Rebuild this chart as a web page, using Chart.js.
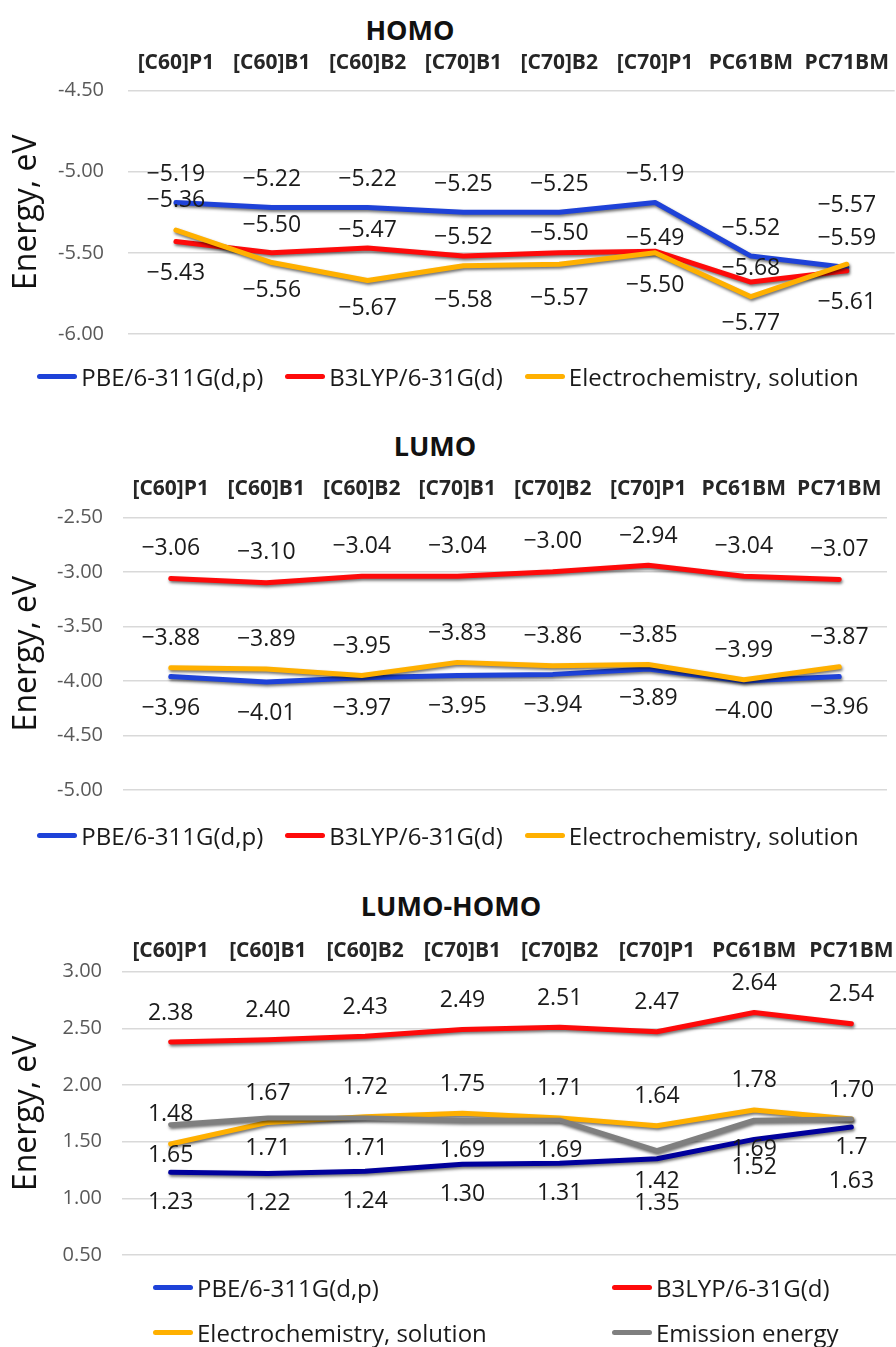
<!DOCTYPE html>
<html>
<head>
<meta charset="utf-8">
<script src="https://cdn.jsdelivr.net/npm/chart.js@4"></script>
<style>
    html, body {
        margin: 0;
        padding: 0;
        background: #fff;
        overflow: hidden;
    }
    body {
        position: relative;
        width: 896px;
        height: 1347px;
        font-family: 'Open Sans', sans-serif;
    }
    .block {
        position: absolute;
        left: 0;
    }
    .chart-title {
        position: absolute;
        transform: translate(-50%, -50%);
        font-weight: bold;
        font-size: 27px;
        color: #111;
        white-space: nowrap;
    }
    .legend {
        position: absolute;
        display: flex;
        align-items: center;
        font-size: 24px;
        color: #1a1a1a;
        white-space: nowrap;
    }
    .legend-row {
        left: 0;
        width: 896px;
        justify-content: center;
        gap: 22px;
        transform: translateY(-50%);
    }
    .legend-grid {
        display: grid;
        grid-template-columns: 459px auto;
        row-gap: 13px;
        left: 153px;
    }
    .legend-item {
        display: flex;
        align-items: center;
        height: 32px;
    }
    .swatch {
        width: 40px;
        height: 5px;
        border-radius: 3px;
        margin-right: 4px;
    }
</style>
</head>
<body>
    <div class="chart-title" style="left:410px; top:29px;">HOMO</div>
    <div class="block" style="top:0;"><canvas id="homoChart" width="896" height="370"></canvas></div>
    <div class="legend legend-row" id="homoLegend" style="top:376px;"></div>

    <div class="chart-title" style="left:435px; top:445px;">LUMO</div>
    <div class="block" style="top:400px;"><canvas id="lumoChart" width="896" height="422"></canvas></div>
    <div class="legend legend-row" id="lumoLegend" style="top:835px;"></div>

    <div class="chart-title" style="left:451px; top:905px;">LUMO-HOMO</div>
    <div class="block" style="top:870px;"><canvas id="gapChart" width="900" height="417"></canvas></div>
    <div class="legend legend-grid" id="gapLegend" style="top:1271px;"></div>

<script>
// Категории и подписи серий
const categories = ['[C60]P1', '[C60]B1', '[C60]B2', '[C70]B1', '[C70]B2', '[C70]P1', 'PC61BM', 'PC71BM'];
const seriesNames = ['PBE/6-311G(d,p)', 'B3LYP/6-31G(d)', 'Electrochemistry, solution', 'Emission energy'];
const axisTitle = 'Energy, eV';

// HOMO, eV
const homoPbe = [-5.19, -5.22, -5.22, -5.25, -5.25, -5.19, -5.52, -5.59];
const homoB3lyp = [-5.43, -5.50, -5.47, -5.52, -5.50, -5.49, -5.68, -5.61];
const homoElectro = [-5.36, -5.56, -5.67, -5.58, -5.57, -5.50, -5.77, -5.57];

// LUMO, eV
const lumoPbe = [-3.96, -4.01, -3.97, -3.95, -3.94, -3.89, -4.00, -3.96];
const lumoB3lyp = [-3.06, -3.10, -3.04, -3.04, -3.00, -2.94, -3.04, -3.07];
const lumoElectro = [-3.88, -3.89, -3.95, -3.83, -3.86, -3.85, -3.99, -3.87];

// LUMO-HOMO, eV
const gapPbe = [1.23, 1.22, 1.24, 1.30, 1.31, 1.35, 1.52, 1.63];
const gapB3lyp = [2.38, 2.40, 2.43, 2.49, 2.51, 2.47, 2.64, 2.54];
const gapElectro = [1.48, 1.67, 1.72, 1.75, 1.71, 1.64, 1.78, 1.70];
const gapEmission = [1.65, 1.71, 1.71, 1.69, 1.69, 1.42, 1.69, 1.7];

// Диапазоны осей Y
const homoRange = [-6.0, -4.5];
const lumoRange = [-5.0, -2.5];
const gapRange = [0.5, 3.0];
const yStep = 0.5;

// Сдвиг подписей значений в px (плюс - выше точки, минус - ниже)
const homoShift = {
    pbe: [28, 28, 28, 28, 28, 28, 28, 29],
    b3lyp: [-32, 27, 18, 19, 19, 13, 14, -32],
    electro: [30, -28, -28, -35, -34, -33, -27, 59]
};
const lumoShift = {
    pbe: [-32, -31, -31, -31, -31, -30, -31, -31],
    b3lyp: [30, 30, 30, 30, 30, 29, 30, 30],
    electro: [29, 29, 29, 29, 29, 29, 29, 29]
};
const gapShift = {
    pbe: [-30, -30, -30, -30, -30, -45, -28, -55],
    b3lyp: [29, 29, 29, 29, 29, 29, 29, 29],
    electro: [29, 29, 29, 29, 29, 29, 29, 29],
    emission: [-31, -31, -31, -30, -30, -31, -29, -28]
};

const FONT = "'Open Sans', sans-serif";
const COLORS = {
    blue: '#1e42d8',
    navy: '#00009c',
    red: '#fe0a0a',
    orange: '#ffb000',
    gray: '#7f7f7f'
};

const fixed2 = v => v.toFixed(2).replace('-', '\u2212');
const general = v => String(v).replace('-', '\u2212');

// Тень под линиями, как в Excel
const lineShadow = {
    id: 'lineShadow',
    beforeDatasetsDraw(chart) {
        const ctx = chart.ctx;
        ctx.save();
        ctx.shadowColor = 'rgba(0, 0, 0, 0.55)';
        ctx.shadowBlur = 3;
        ctx.shadowOffsetX = 1;
        ctx.shadowOffsetY = 2;
    },
    afterDatasetsDraw(chart) {
        chart.ctx.restore();
    }
};

// Подписи значений у точек
const valueLabels = {
    id: 'valueLabels',
    afterDraw(chart) {
        const ctx = chart.ctx;
        ctx.save();
        ctx.font = `23px ${FONT}`;
        ctx.fillStyle = '#1a1a1a';
        ctx.textAlign = 'center';
        ctx.textBaseline = 'middle';
        chart.data.datasets.forEach((ds, i) => {
            const meta = chart.getDatasetMeta(i);
            meta.data.forEach((pt, j) => {
                ctx.fillText(ds.fmt(ds.data[j]), pt.x, pt.y - ds.shift[j]);
            });
        });
        ctx.restore();
    }
};

class EnergyCharts {
    constructor() {
        this.charts = {};
        this.init();
    }

    init() {
        this.charts.homo = this.buildChart('homoChart', [
            this.lineSet(seriesNames[0], homoPbe, COLORS.blue, homoShift.pbe, fixed2, 3),
            this.lineSet(seriesNames[1], homoB3lyp, COLORS.red, homoShift.b3lyp, fixed2, 2),
            this.lineSet(seriesNames[2], homoElectro, COLORS.orange, homoShift.electro, fixed2, 1)
        ], {
            range: homoRange, yWidth: 128, xHeight: 50.5, xPad: 7, yPad: 24,
            padding: { top: 40, bottom: 12, left: 0, right: 0 }
        });

        this.charts.lumo = this.buildChart('lumoChart', [
            this.lineSet(seriesNames[0], lumoPbe, COLORS.blue, lumoShift.pbe, fixed2, 3),
            this.lineSet(seriesNames[1], lumoB3lyp, COLORS.red, lumoShift.b3lyp, fixed2, 2),
            this.lineSet(seriesNames[2], lumoElectro, COLORS.orange, lumoShift.electro, fixed2, 1)
        ], {
            range: lumoRange, yWidth: 123, xHeight: 50.3, xPad: 8, yPad: 20,
            padding: { top: 67, bottom: 12, left: 0, right: 9 }
        });

        const gapPbeSet = this.lineSet(seriesNames[0], gapPbe, COLORS.navy, gapShift.pbe, fixed2, 4);
        gapPbeSet.legendColor = COLORS.blue;
        this.charts.gap = this.buildChart('gapChart', [
            gapPbeSet,
            this.lineSet(seriesNames[1], gapB3lyp, COLORS.red, gapShift.b3lyp, fixed2, 3),
            this.lineSet(seriesNames[2], gapElectro, COLORS.orange, gapShift.electro, fixed2, 2),
            this.lineSet(seriesNames[3], gapEmission, COLORS.gray, gapShift.emission, general, 1)
        ], {
            range: gapRange, yWidth: 122, xHeight: 51.7, xPad: 0, yPad: 20,
            padding: { top: 50, bottom: 12, left: 0, right: 0 }
        });

        this.buildLegend(this.charts.homo, 'homoLegend');
        this.buildLegend(this.charts.lumo, 'lumoLegend');
        this.buildLegend(this.charts.gap, 'gapLegend');
    }

    lineSet(label, data, color, shift, fmt, order) {
        return {
            label: label,
            data: data,
            borderColor: color,
            backgroundColor: color,
            borderWidth: 5,
            borderCapStyle: 'round',
            borderJoinStyle: 'round',
            pointRadius: 0,
            tension: 0,
            fill: false,
            order: order,
            shift: shift,
            fmt: fmt
        };
    }

    buildChart(canvasId, datasets, cfg) {
        const ctx = document.getElementById(canvasId).getContext('2d');
        return new Chart(ctx, {
            type: 'line',
            data: {
                labels: categories,
                datasets: datasets
            },
            options: {
                responsive: false,
                animation: false,
                layout: { padding: cfg.padding },
                plugins: {
                    legend: { display: false },
                    tooltip: { enabled: false }
                },
                scales: {
                    x: {
                        position: 'top',
                        offset: true,
                        grid: { display: false },
                        border: { display: false },
                        ticks: {
                            font: { family: FONT, size: 21, weight: 'bold' },
                            color: '#262626',
                            padding: cfg.xPad,
                            maxRotation: 0,
                            autoSkip: false
                        },
                        afterFit: scale => { scale.height = cfg.xHeight; }
                    },
                    y: {
                        min: cfg.range[0],
                        max: cfg.range[1],
                        grid: { color: '#d9d9d9', lineWidth: 1.5, drawTicks: false },
                        border: { display: false },
                        ticks: {
                            stepSize: yStep,
                            font: { family: FONT, size: 20 },
                            color: '#595959',
                            padding: cfg.yPad,
                            callback: v => Number(v).toFixed(2)
                        },
                        title: {
                            display: true,
                            text: axisTitle,
                            font: { family: FONT, size: 32 },
                            color: '#111',
                            padding: { top: 8, bottom: 0 }
                        },
                        afterFit: scale => { scale.width = cfg.yWidth; }
                    }
                }
            },
            plugins: [lineShadow, valueLabels]
        });
    }

    buildLegend(chart, elementId) {
        const box = document.getElementById(elementId);
        box.innerHTML = '';
        chart.data.datasets.forEach(ds => {
            const item = document.createElement('div');
            item.className = 'legend-item';
            const swatch = document.createElement('span');
            swatch.className = 'swatch';
            swatch.style.background = ds.legendColor || ds.borderColor;
            const text = document.createElement('span');
            text.textContent = ds.label;
            item.appendChild(swatch);
            item.appendChild(text);
            box.appendChild(item);
        });
    }
}

new EnergyCharts();
</script>
</body>
</html>
